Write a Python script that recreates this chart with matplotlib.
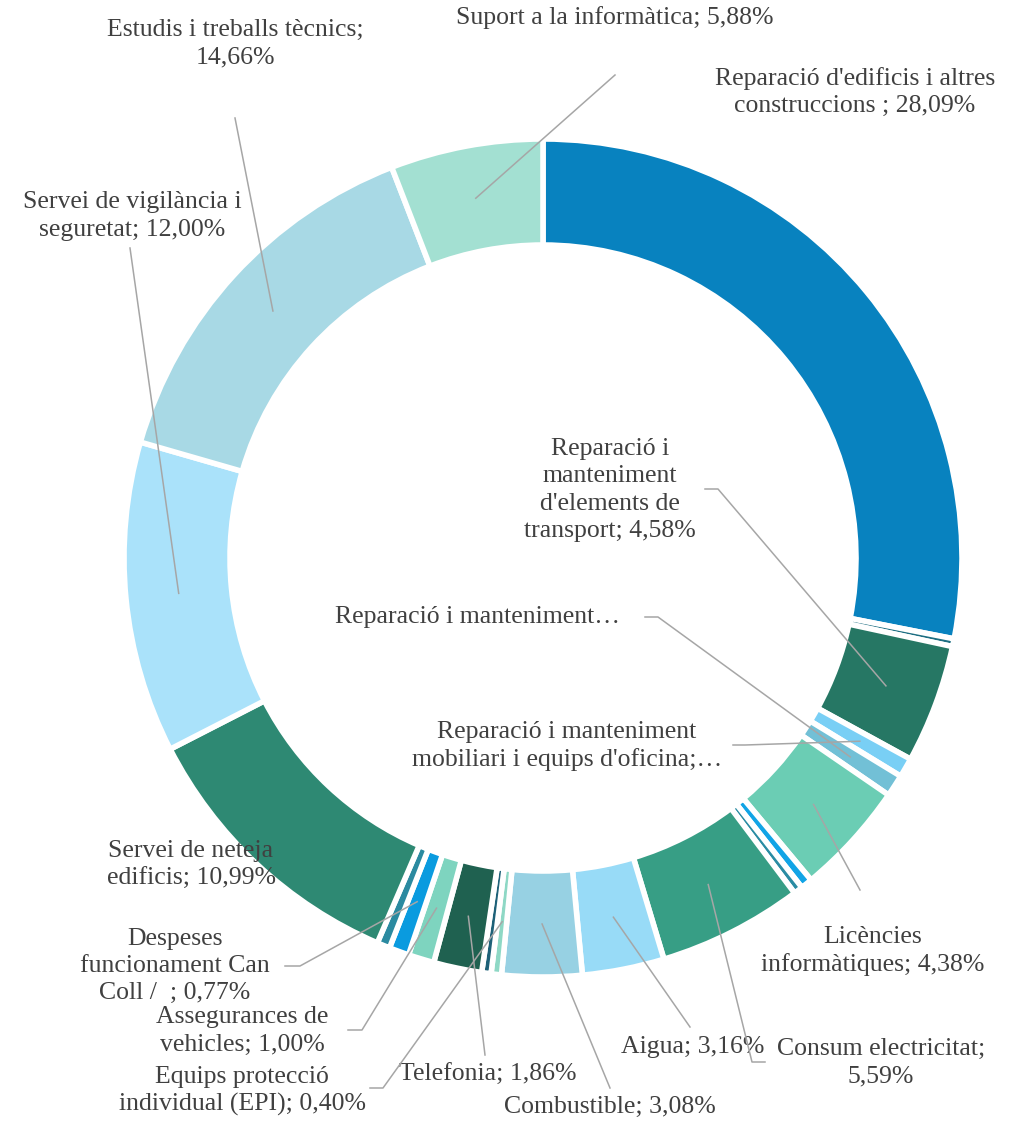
import numpy as np
import matplotlib
matplotlib.use('Agg')
import matplotlib.pyplot as plt

# Data (clockwise from 12 o'clock)
labels = [
    "Reparació d'edificis i altres\nconstruccions ; 28,09%",
    None,
    "Reparació i\nmanteniment\nd'elements de\ntransport; 4,58%",
    "Reparació i manteniment\nmobiliari i equips d'oficina;…",
    "Reparació i manteniment…",
    "Licències\ninformàtiques; 4,38%",
    None,
    None,
    "Consum electricitat;\n5,59%",
    "Aigua; 3,16%",
    "Combustible; 3,08%",
    "Equips protecció\nindividual (EPI); 0,40%",
    None,
    "Telefonia; 1,86%",
    "Assegurances de\nvehicles; 1,00%",
    "Despeses\nfuncionament Can\nColl /  ; 0,77%",
    None,
    "Servei de neteja\nedificis; 10,99%",
    "Servei de vigilància i\nseguretat; 12,00%",
    "Estudis i treballs tècnics;\n14,66%",
    "Suport a la informàtica; 5,88%",
]
values = [28.09, 0.30, 4.58, 0.75, 0.85, 4.38, 0.45, 0.35, 5.59, 3.16, 3.08,
          0.40, 0.36, 1.86, 1.00, 0.77, 0.50, 10.99, 12.00, 14.66, 5.88]
colors = ['#0882bf', '#1d6e82', '#267764', '#79cff5', '#72c0d6', '#6bcdb4',
          '#11a4e6', '#2a8ca3', '#379e85', '#98dbf7', '#97d1e3', '#8ed8c5',
          '#1e6178', '#1f6150', '#7ed4bf', '#0a9bdf', '#2b8aa0', '#2e8973',
          '#aae2fa', '#a8d9e5', '#a3e0d2']

W, H = 1021, 1121

# label layout in pixel coords (x, y from top-left)
text_pos = {0: (855, 92), 2: (610, 490), 3: (567, 746), 4: (477, 617),
            5: (873, 951), 8: (881, 1063), 9: (693, 1047), 10: (610, 1107),
            11: (242, 1091), 13: (488, 1075), 14: (242, 1031), 15: (175, 966),
            17: (191, 865), 18: (132, 216), 19: (235, 44), 20: (615, 18)}
leader_start = {2: [(705, 489), (718, 489)], 3: [(733, 745), (745, 745)],
                4: [(645, 617), (658, 617)], 5: [(860, 890)],
                8: [(765, 1062), (752, 1062)], 9: [(690, 1027)],
                10: [(610, 1088)], 11: [(370, 1088), (383, 1088)],
                13: [(485, 1055)], 14: [(348, 1030), (362, 1030)],
                15: [(285, 966), (300, 966)], 18: [(130, 248)],
                19: [(235, 118)], 20: [(615, 75)]}

fig = plt.figure(figsize=(W / 100, H / 100), dpi=100)
ax = fig.add_axes([0, 0, 1, 1])

cx, cy = 543, H - 558
wedges, _ = ax.pie(values, colors=colors, startangle=90, counterclock=False,
                   radius=419, center=(cx, cy),
                   wedgeprops=dict(width=106, edgecolor='white', linewidth=4))

ax.set_xlim(0, W)
ax.set_ylim(0, H)
ax.set_aspect('equal')
ax.axis('off')

for i, lab in enumerate(labels):
    if lab is None:
        continue
    tx, ty = text_pos[i]
    ax.text(tx, H - ty, lab, ha='center', va='center', multialignment='center',
            fontsize=18.5, family='Liberation Serif', color='#404040',
            linespacing=1.3)
    if i in leader_start:
        w = wedges[i]
        ang = np.deg2rad((w.theta1 + w.theta2) / 2)
        ax_x = cx + 366 * np.cos(ang)
        ax_y = cy + 366 * np.sin(ang)
        pts = leader_start[i]
        xs = [p[0] for p in pts] + [ax_x]
        ys = [H - p[1] for p in pts] + [ax_y]
        ax.plot(xs, ys, color='#a6a6a6', lw=1.1, zorder=5)

fig.savefig('out.png', dpi=100)
